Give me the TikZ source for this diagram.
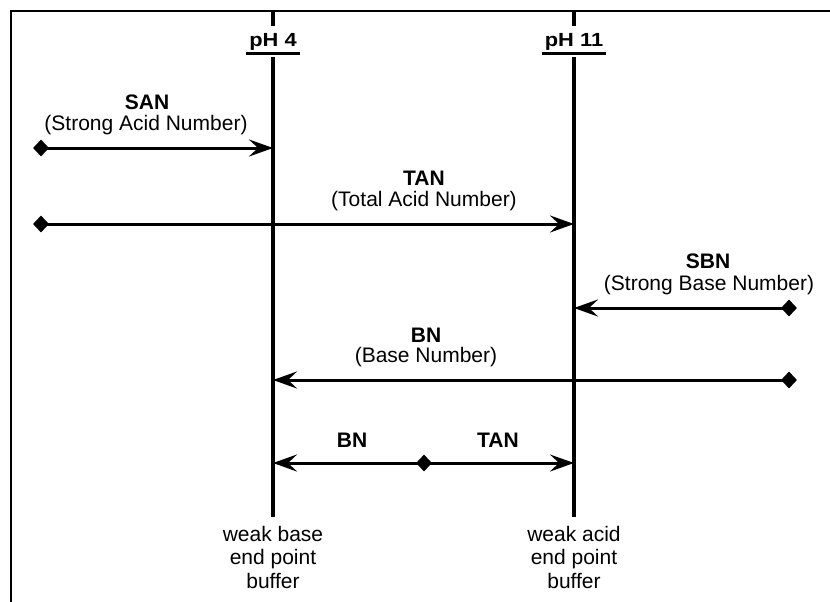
\documentclass[tikz,border=0pt]{standalone}
\usepackage{fontspec}
\setmainfont{Liberation Sans}
\usetikzlibrary{arrows.meta,shapes.geometric}

\begin{document}
\begin{tikzpicture}[x=1pt,y=-1pt,
  txt/.style={font=\fontsize{21}{23.5}\selectfont, inner sep=0pt, align=center},
  head/.style={font=\fontsize{21}{23.5}\selectfont\bfseries, inner sep=0pt},
  phlabel/.style={font=\fontsize{19}{20}\selectfont\bfseries, xscale=1.15, inner xsep=2.6pt, inner ysep=0pt, anchor=base},
  uline/.style={line width=3pt},
  frame/.style={line width=2.2pt},
  phline/.style={line width=4pt},
  meas/.style={line width=3pt, -{Stealth[length=24pt,width=17pt,inset=9pt]}},
  dia/.style={diamond, fill=black, draw=none, minimum width=16pt, minimum height=17pt, inner sep=0pt}
]
\useasboundingbox (0,0) rectangle (830,602);

% outer frame (top and left edges)
\draw[frame] (11,602) -- (11,11) -- (830,11);

% end point lines with their pH headings
\coordinate (p4top) at (273,11);
\coordinate (p4tick) at (273,26);
\coordinate (p4start) at (273,57);
\coordinate (p4) at (273,517);
\coordinate (p11top) at (574,11);
\coordinate (p11tick) at (574,26);
\coordinate (p11start) at (574,57);
\coordinate (p11) at (574,517);
\draw[phline] (p4top) -- (p4tick);
\draw[phline] (p4start) -- (p4);
\draw[phline] (p11top) -- (p11tick);
\draw[phline] (p11start) -- (p11);
\node[phlabel] (ph4) at (273,46.7) {pH 4};
\node[phlabel] (ph11) at (574,46.7) {pH 11};
\draw[uline] ([yshift=-6.8pt]ph4.base west) -- ([yshift=-6.8pt]ph4.base east);
\draw[uline] ([yshift=-6.8pt]ph11.base west) -- ([yshift=-6.8pt]ph11.base east);

% SAN
\node[dia] (dsan) at (41,148) {};
\draw[meas] (dsan.center) -- (dsan.center -| p4);
\node[head] (san) at (147,102) {SAN};
\node[txt] (sanl) at (146,125) {(Strong Acid Number)};

% TAN
\node[dia] (dtan) at (41,224) {};
\draw[meas] (dtan.center) -- (dtan.center -| p11);
\node[head] (tan) at (424,178) {TAN};
\node[txt] (tanl) at (424,201) {(Total Acid Number)};

% SBN
\node[dia] (dsbn) at (789,308) {};
\draw[meas] (dsbn.center) -- (dsbn.center -| p11);
\node[head] (sbn) at (708,261) {SBN};
\node[txt] (sbnl) at (709,285) {(Strong Base Number)};

% BN
\node[dia] (dbn) at (789,380) {};
\draw[meas] (dbn.center) -- (dbn.center -| p4);
\node[head] (bn) at (426,335) {BN};
\node[txt] (bnl) at (426,357) {(Base Number)};

% weak acid / weak base split
\node[dia] (dmid) at (424,463) {};
\draw[meas] (dmid.center) -- (dmid.center -| p4);
\draw[meas] (dmid.center) -- (dmid.center -| p11);
\node[head] (bn2) at (352,440) {BN};
\node[head] (tan2) at (498,440) {TAN};

% end point captions
\node[txt, anchor=north] (wb) at (273,526) {weak base\\end point\\buffer};
\node[txt, anchor=north] (wa) at (574,526) {weak acid\\end point\\buffer};
\end{tikzpicture}
\end{document}
